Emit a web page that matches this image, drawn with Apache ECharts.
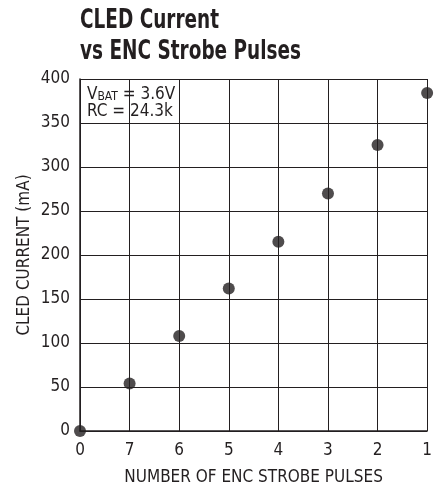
<!DOCTYPE html>
<html>
<head>
<meta charset="utf-8">
<script src="https://cdn.jsdelivr.net/npm/echarts@6/dist/echarts.min.js"></script>
<style>html,body{margin:0;padding:0;background:#fff;}#c{width:435px;height:491px;}</style>
</head>
<body>
<div id="c"></div>
<script>
const categories = ['0', '7', '6', '5', '4', '3', '2', '1'];
const currentMA = [0, 54, 108, 162, 215, 270, 325, 384];
const yTicks = { min: 0, max: 400, interval: 50 };

const FONT = "'Liberation Sans Narrow', 'DejaVu Sans Condensed', 'Roboto Condensed', sans-serif";
const INK = '#231f20';
const chart = echarts.init(document.getElementById('c'));
chart.setOption({
  animation: false,
  backgroundColor: '#fff',
  grid: { left: 80, right: 3, top: 79, bottom: 59 },
  xAxis: {
    type: 'category', data: categories, boundaryGap: false,
    name: 'NUMBER OF ENC STROBE PULSES', nameLocation: 'middle', nameGap: 38,
    nameTextStyle: { fontFamily: FONT, fontSize: 17, color: INK },
    axisLine: { lineStyle: { color: INK, width: 1.5 } },
    axisTick: { show: false },
    axisLabel: { fontFamily: FONT, fontSize: 17, color: INK, margin: 11, interval: 0 },
    splitLine: { show: true, lineStyle: { color: INK, width: 1 } }
  },
  yAxis: {
    type: 'value', min: yTicks.min, max: yTicks.max, interval: yTicks.interval,
    name: 'CLED CURRENT (mA)', nameLocation: 'middle', nameGap: 47, nameMoveOverlap: false,
    nameTextStyle: { fontFamily: FONT, fontSize: 17, color: INK },
    axisLine: { show: true, lineStyle: { color: INK, width: 1.5 } },
    axisTick: { show: false },
    axisLabel: { fontFamily: FONT, fontSize: 17, color: INK, margin: 10 },
    splitLine: { show: true, lineStyle: { color: INK, width: 1 } }
  },
  graphic: [
    { type: 'text', x: 80, y: 5, scaleX: 0.76, z: 5, style: {
        text: 'CLED Current\nvs ENC Strobe Pulses', fontFamily: FONT, fontWeight: 'bold',
        fontSize: 27, lineHeight: 31, fill: INK, verticalAlign: 'top'
      } },
    {
    type: 'group', left: 81, top: 80, z: 5,
    children: [
      { type: 'rect', shape: { x: 0, y: 0, width: 101, height: 47 }, style: { fill: '#fff' } },
      { type: 'text', x: 6, y: 5, style: {
          text: '{a|V}{s|BAT}{a| = 3.6V}', fontFamily: FONT,
          rich: {
            a: { fontFamily: FONT, fontSize: 17, fill: INK, verticalAlign: 'bottom' },
            s: { fontFamily: FONT, fontSize: 12, fill: INK, padding: [6, 0, 0, 0], verticalAlign: 'bottom' }
          }
        } },
      { type: 'text', x: 6, y: 23, style: { text: 'RC = 24.3k', fontFamily: FONT, fontSize: 17, fill: INK } }
    ]
  }],
  series: [{
    type: 'scatter', data: currentMA, symbol: 'circle', symbolSize: 12,
    itemStyle: { color: INK }, clip: false, z: 10
  }]
});
</script>
</body>
</html>
